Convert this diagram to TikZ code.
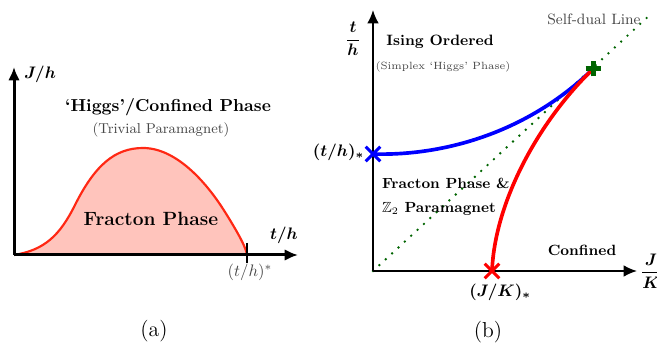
\documentclass[tikz,border=0pt]{standalone}
\usepackage{amsmath,amssymb,bm}
\usetikzlibrary{arrows.meta,shapes.misc}
\definecolor{curvered}{RGB}{255,40,20}
\definecolor{fillpink}{RGB}{255,196,188}
\definecolor{dgreen}{RGB}{0,100,0}
\definecolor{txtgray}{RGB}{70,70,70}
\tikzset{
  axisA/.style={line width=1.8pt,-{Latex[length=8pt,width=7pt]}},
  axisB/.style={line width=1.1pt,-{Latex[length=8pt,width=7pt]}},
  lbl/.style={inner sep=1pt},
  xmark/.style={cross out,draw,line width=1.8pt,minimum size=7pt,inner sep=0pt},
}
\begin{document}
\begin{tikzpicture}[x=0.6pt,y=-0.6pt]
\useasboundingbox (0,0) rectangle (657,347);
% ---------------- panel (a)
\coordinate (oa) at (14,255);
\coordinate (ya) at (14,67);
\coordinate (xa) at (298,255);
\coordinate (ea) at (247,255);
\def\fracpath{(oa) .. controls (45,250) and (60,235) .. (75,205) .. controls (95,165) and (115,148) .. (143,148) .. controls (175,148) and (205,180) .. (225,212) .. controls (240,236) and (246,248) .. (ea)}
\fill[fillpink] \fracpath -- cycle;
\draw[curvered,line width=1.3pt] \fracpath;
\draw[axisA] (oa) -- (ya);
\draw[axisA] (oa) -- (xa);
\coordinate (tk1) at (247,243);
\coordinate (tk2) at (247,263);
\draw[line width=1.4pt] (tk1) -- (tk2);
\node[lbl] (Jh) at (40,74) {$\bm{J/h}$};
\node[lbl] (th) at (284,235) {$\bm{t/h}$};
\node[lbl,text=txtgray] (ths) at (250,272) {$(t/h)^{*}$};
\node[lbl,font=\fontsize{10.4}{12}\selectfont\bfseries] (higgs) at (168,107) {`Higgs'/Confined Phase};
\node[lbl,font=\fontsize{8.6}{10}\selectfont,text=txtgray] (triv) at (161,130) {(Trivial Paramagnet)};
\node[lbl,font=\fontsize{11.5}{13}\selectfont\bfseries] (frac) at (151,219) {Fracton Phase};
\node[lbl,font=\fontsize{13}{15}\selectfont] (capa) at (154,331) {(a)};
% ---------------- panel (b)
\coordinate (ob) at (373,271);
\coordinate (yb) at (373,10);
\coordinate (xb) at (637,271);
\coordinate (sd) at (652,13);
\draw[dgreen,line width=1.6pt,line cap=round,dash pattern=on 0pt off 5.2pt] (ob) -- (sd);
\draw[axisB] (ob) -- (yb);
\draw[axisB] (ob) -- (xb);
\node[xmark,draw=blue] (bx) at (373,154) {};
\node[xmark,draw=red] (rx) at (492,271) {};
\coordinate (gp) at (593,69);
\draw[blue,line width=2.2pt] (bx.center) .. controls (440,156) and (525,135) .. (gp);
\draw[red,line width=2.2pt] (rx.center) .. controls (495,200) and (540,120) .. (gp);
\draw[dgreen,line width=3pt] ([xshift=-4.5pt]gp) -- ([xshift=4.5pt]gp);
\draw[dgreen,line width=3pt] ([yshift=-4.5pt]gp) -- ([yshift=4.5pt]gp);
\node[lbl] (tbh) at (353,39) {$\dfrac{\bm{t}}{\bm{h}}$};
\node[lbl,anchor=east] (ths2) at (366,152) {$\bm{(t/h)_{*}}$};
\node[lbl] (jk2) at (500,292) {$\bm{(J/K)_{*}}$};
\node[lbl] (JK) at (651,271) {$\dfrac{\bm{J}}{\bm{K}}$};
\node[lbl,font=\fontsize{9}{11}\selectfont\bfseries] (ising) at (440,42) {Ising Ordered};
\node[lbl,font=\fontsize{6.3}{8}\selectfont,text=txtgray] (simp) at (443,67) {(Simplex `Higgs' Phase)};
\node[lbl,font=\fontsize{9}{11}\selectfont,text=txtgray] (self) at (594,19) {Self-dual Line};
\node[lbl,font=\fontsize{8.8}{11}\selectfont\bfseries,anchor=north west,align=left] (fp) at (380,176) {Fracton Phase \&\\[3.5pt]$\mathbb{Z}_2$ Paramagnet};
\node[lbl,font=\fontsize{8.9}{11}\selectfont\bfseries] (conf) at (582,250) {Confined};
\node[lbl,font=\fontsize{13}{15}\selectfont] (capb) at (488,332) {(b)};
\end{tikzpicture}
\end{document}
